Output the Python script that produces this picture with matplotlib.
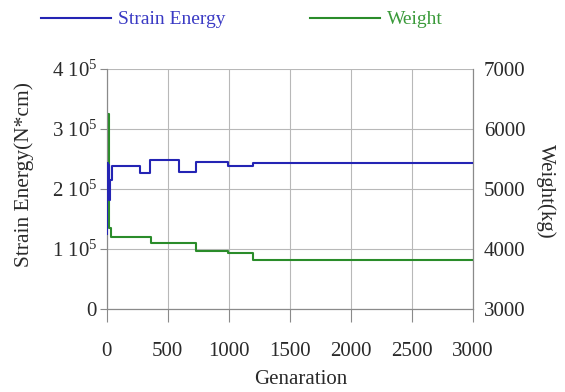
import matplotlib
matplotlib.use('Agg')
import matplotlib.pyplot as plt
from matplotlib.lines import Line2D

plt.rcParams['font.family'] = ['Liberation Serif', 'DejaVu Serif']
plt.rcParams['mathtext.fontset'] = 'custom'
plt.rcParams['mathtext.rm'] = 'Liberation Serif'
plt.rcParams['mathtext.it'] = 'Liberation Serif:italic'

# strain energy history (N*cm), stepwise per generation
gen_energy = [0, 5, 10, 15, 20, 30, 40, 270, 358, 590, 730, 990, 1195, 3000]
energy = [1.25e5, 2.43e5, 1.85e5, 2.40e5, 1.82e5, 2.15e5, 2.38e5,
          2.27e5, 2.48e5, 2.28e5, 2.45e5, 2.39e5, 2.44e5, 2.44e5]

# structure weight history (kg)
gen_weight = [0, 20, 38, 360, 730, 990, 1195, 3000]
weight = [6250, 4350, 4200, 4100, 3970, 3940, 3820, 3820]

x_ticks = [0, 500, 1000, 1500, 2000, 2500, 3000]
e_ticks = [0, 1e5, 2e5, 3e5, 4e5]
e_labels = ['0', '1 10$^5$', '2 10$^5$', '3 10$^5$', '4 10$^5$']
w_ticks = [3000, 4000, 5000, 6000, 7000]

blue = '#2424b4'
green = '#2a8c2a'
grid_c = '#b8b8b8'
spine_c = '#8a8a8a'
text_c = '#2a2a2a'

fig = plt.figure(figsize=(5.65, 3.92), dpi=100)
ax = fig.add_axes([0.189, 0.212, 0.648, 0.612])
ax2 = ax.twinx()
# keep the energy curve on top of the weight curve
ax.set_zorder(ax2.get_zorder() + 1)
ax.patch.set_visible(False)

ax.step(gen_energy, energy, where='post', color=blue, lw=1.5, zorder=3)
ax2.step(gen_weight, weight, where='post', color=green, lw=1.5, zorder=3)

ax.set_xlim(0, 3000)
ax.set_ylim(0, 4e5)
ax2.set_ylim(3000, 7000)

ax.set_xticks(x_ticks)
ax.set_yticks(e_ticks)
ax.set_yticklabels(e_labels)
ax2.set_yticks(w_ticks)

# grid on the lower axes so the curves sit above it
for xt in x_ticks:
    ax2.axvline(xt, color=grid_c, lw=0.8, zorder=0)
for wt in w_ticks:
    ax2.axhline(wt, color=grid_c, lw=0.8, zorder=0)

for a in (ax, ax2):
    a.spines['top'].set_visible(False)
    for s in ('left', 'bottom', 'right'):
        a.spines[s].set_color(spine_c)
        a.spines[s].set_linewidth(0.8)

ax.tick_params(axis='x', direction='out', length=9, width=0.8, color=spine_c,
               pad=15, labelsize=15, labelcolor=text_c)
ax.tick_params(axis='y', direction='out', length=5, width=0.8, color=spine_c,
               pad=2, labelsize=15, labelcolor=text_c)
ax2.tick_params(axis='y', length=0, pad=8, labelsize=15, labelcolor=text_c)

ax.set_xlabel('Genaration', fontsize=15, color=text_c)
ax.xaxis.set_label_coords(0.53, -0.255)
ax.set_ylabel('Strain Energy(N*cm)', fontsize=15.5, color=text_c)
ax.yaxis.set_label_coords(-0.2, 0.56)
ax2.set_ylabel('Weight(kg)', fontsize=15, color=text_c, rotation=-90)
ax2.yaxis.set_label_coords(1.225, 0.49)

handles = [Line2D([], [], color=blue, lw=1.5), Line2D([], [], color=green, lw=1.5)]
fig.legend(handles, ['Strain Energy', 'Weight'], loc='center left',
           bbox_to_anchor=(0.041, 0.95), ncol=2, frameon=False, fontsize=14,
           handlelength=3.6, handletextpad=0.4, columnspacing=4.3,
           labelcolor=['#3a3ac4', '#3a9a3a'])

fig.savefig('out.png', dpi=100)
